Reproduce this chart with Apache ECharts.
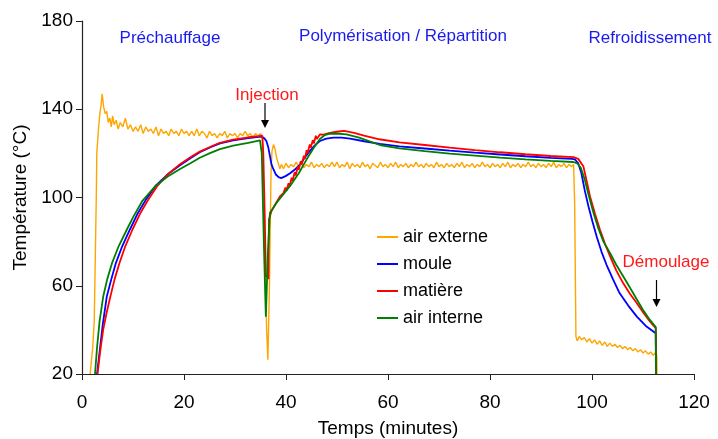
<!DOCTYPE html>
<html>
<head>
<meta charset="utf-8">
<script src="https://cdn.jsdelivr.net/npm/echarts@6/dist/echarts.min.js"></script>
<style>
  html, body { margin: 0; padding: 0; background: #fff; }
  #chart { width: 718px; height: 439px; }
</style>
</head>
<body>
<div id="chart"></div>
<script>
// temps (minutes), température (°C)
const airExterne = [
  [1.6,20],[2.1,32],[2.4,44],[2.8,100],[2.9,120],[3.2,130],[3.5,138],[3.75,142],[3.95,147],[4.25,141],
  [4.55,138],[4.85,139],[5.15,134],[5.45,136],[5.75,132],[6.0,137],[6.3,133],[6.7,135],[7.1,131],[7.5,134],
  [8.0,132],[8.5,136],[9.0,131],[9.5,133],[10,130],[10.5,132],[11,130],[11.5,133],[12,129],[12.5,132],
  [13,130],[13.5,131],[14,129],[14.5,132],[15,128],[15.5,131],[16,129],[16.5,130],[17,128],[17.5,131],
  [18,129],[18.5,130],[19,128],[19.5,131],[20,129],[20.5,130],[21,128],[21.5,130],[22,128],[22.5,131],
  [23,128],[23.5,130],[24,129],[24.5,127],[25,130],[25.5,128],[26,129],[26.5,127],[27,129],[27.5,128],
  [28,130],[28.5,127],[29,129],[29.5,128],[30,129],[30.5,127],[31,129],[31.5,128],[32,130],[32.5,128],
  [33,129],[33.5,127],[34,129],[34.5,128],[35,129],
  [35.4,127],[35.8,80],[36.2,40],[36.45,26.5],[36.75,60],[37.05,110],[37.25,121],[37.55,124],[37.85,122],[38.15,118],
  [38.55,115],[38.8,113],[39.1,115],[39.5,113],[40,115.5],[40.5,113.5],[41,115],[41.5,114],[42,116],[42.5,114],
  [43,115.5],[43.5,113.5],[44,115],[44.5,114],[45,116],[45.5,113.5],[46,115],[46.5,114],[47,115.5],[47.5,113.5],
  [48,115],[48.5,114],[49,116],[49.5,114],[50,116],[50.5,113.5],[51,115],[51.5,114],[52,116],[52.5,113],
  [53,115.5],[53.5,114],[54,115],[54.5,113.5],[55,116],[55.5,114],[56,115],[56.5,113],[57,115.5],[57.5,114.5],
  [58,113.5],[58.5,116],[59,114],[59.5,115],[60,113.5],[60.5,115.5],[61,114],[61.5,116],[62,113.5],[62.5,115],
  [63,114],[63.5,115.5],[64,113.5],[64.5,115],[65,114],[65.5,116],[66,114],[66.5,115],[67,113.5],[67.5,115.5],
  [68,114],[68.5,115],[69,113.5],[69.5,116],[70,114],[70.5,115],[71,113.5],[71.5,115.5],[72,114],[72.5,115],
  [73,113.5],[73.5,115.5],[74,114],[74.5,116],[75,113.5],[75.5,115],[76,114],[76.5,115.5],[77,113.5],[77.5,115],
  [78,114],[78.5,116],[79,114],[79.5,115],[80,113.5],[80.5,115.5],[81,114],[81.5,115],[82,113.5],[82.5,115.5],
  [83,114],[83.5,116],[84,113.5],[84.5,115],[85,114],[85.5,115.5],[86,113.5],[86.5,115],[87,114],[87.5,116],
  [88,114],[88.5,115],[89,113.5],[89.5,115.5],[90,114],[90.5,115],[91,113.5],[91.5,115.5],[92,114],[92.5,116],
  [93,113.5],[93.5,115],[94,114],[94.5,115.5],[95,113.5],[95.5,115],[96,114],[96.4,115],
  [96.6,97],[96.85,37],[97.1,35],[97.5,37],[98,35.5],[98.5,36.5],[99,34.5],[99.5,36],[100,34],[100.5,35.5],
  [101,33.5],[101.5,35],[102,33],[102.5,34.5],[103,32.5],[103.5,34],[104,32.5],[104.5,33.5],[105,32],[105.5,33],
  [106,31.5],[106.5,32.5],[107,31],[107.5,32],[108,30.5],[108.5,31.5],[109,30],[109.5,31],[110,29.5],[110.5,30.5],
  [111,29],[111.5,30],[112,28.5],[112.4,29.5],[112.7,28.5],[112.75,20]
];

const moule = [
  [2.95,20],[3.45,30],[4.05,42],[4.85,55],[5.75,63],[6.6,70],[7.9,78],[9.4,85.5],[10.85,92.5],[12.65,99.5],
  [14.5,105.5],[16.8,110.5],[19.15,114.5],[21.25,117.8],[23.1,120.5],[25.2,122.8],[27.05,124.5],[29.65,125.9],[32.6,126.9],[34.6,127.5],
  [35.2,127.6],[35.75,126.8],[36.15,125.6],[36.55,122.5],[36.85,118.8],[37.15,115],[37.55,112.7],[38.05,110.3],[38.55,109.2],[39.05,108.8],
  [39.4,109],[40,109.8],[40.8,111],[41.8,112.8],[42.8,115],[43.65,118],[44.65,121],[45.65,123.6],[46.65,125.6],[47.9,126.7],
  [49.3,127.1],[50.9,127.1],[52.55,126.7],[55.3,125.5],[58.4,124.3],[62.25,123.2],[67.2,122.2],[72.1,121.2],[77.05,120.3],[82,119.5],
  [86.95,118.7],[91.9,118],[96.05,117.5],[96.65,117.3],[97.3,115.5],[97.9,111.2],[98.6,103],[99.3,96],[100.1,89],[100.9,82.4],
  [101.85,75.5],[102.85,69.5],[104.15,62.8],[105.4,56.7],[107.1,51],[108.8,46],[110.55,41.8],[112.5,38.5],[112.55,20]
];

const matiere = [
  [3.05,20],[3.55,30],[4.15,40],[4.85,48],[5.55,55],[6.4,63],[7.3,70],[8.5,78],[9.9,85.5],[11.35,92.5],
  [12.85,98.5],[14.7,105],[16.8,110.5],[19.15,115],[21.25,118.2],[23.1,120.8],[25.2,123],[27.05,124.8],[29.65,126.2],[32.6,127.3],
  [34.6,127.8],[35.35,128],[35.55,120],[35.85,90],[36.05,64],[36.35,65],[36.55,63],[36.65,90],[37.15,93.8],[38.05,97.5],
  [38.85,100.6],[39.5,102],[39.9,104.5],[40.1,103],[40.5,106.5],[40.7,105],[41.1,109],[41.3,107.5],[41.7,111.5],[41.9,110],
  [42.3,114],[42.5,112.5],[42.9,116.5],[43.1,115],[43.5,119],[43.7,117.5],[44.05,121.5],[44.25,120],[44.65,124],[44.85,122.5],
  [45.25,126],[45.45,124.5],[45.85,128],[46.05,126.5],[46.65,128.6],[47.4,128.5],[48.4,129.2],[49.9,129.8],[51.4,130.2],[53.35,129.3],
  [55.3,128],[58.3,126.4],[62.25,125],[67.2,123.8],[72.1,122.6],[77.05,121.5],[82,120.5],[86.95,119.6],[91.9,118.8],[96.35,118.3],
  [97.3,117.5],[98.3,114.2],[99,107],[99.6,100.6],[100.6,92.5],[101.55,85.5],[102.55,79],[103.55,73.3],[104.75,67],[106.1,61.2],
  [107.4,56.5],[108.8,52.1],[110.15,47.5],[111.35,43.8],[112.5,40.8],[112.55,20]
];

const airInterne = [
  [2.55,20],[2.95,32],[3.45,44],[4.15,55],[4.95,63],[5.85,70],[7.2,78],[8.8,85.5],[10,91],[11.85,98.5],
  [14.3,105],[16.8,109.5],[19.15,112.8],[21.25,115.5],[23.1,118],[25.2,120.2],[27.05,121.9],[29.65,123.5],[32.6,124.8],[34.9,125.9],
  [35.25,120],[35.65,80],[36.05,46],[36.45,75],[36.85,93],[38.15,97.6],[39.5,101.5],[40.8,105.2],[42.5,111],[44.05,117.3],
  [45.45,122.5],[46.65,126.5],[47.6,128.3],[48.6,128.9],[49.9,129],[51.85,128.6],[54.35,127.1],[58.4,123.8],[62.25,122.3],[67.2,121],
  [72.1,119.9],[77.05,119],[82,118.1],[86.95,117.3],[91.9,116.6],[96.35,116.1],[97.1,115.5],[97.8,113.5],[98.6,108],[99.3,101.5],
  [100.3,93],[101.25,86],[102.25,80],[103.55,74.8],[104.75,69.5],[106.2,64],[107.6,58.5],[108.8,53.8],[110.15,48.5],[111.35,44.5],
  [112.5,41.3],[112.55,20]
];

const seriesNames = ['air externe', 'moule', 'matière', 'air interne'];
const seriesColors = ['#FFA500', '#0000FF', '#FF0000', '#008000'];
const xTicks = [0, 120, 20];   // min, max, interval
const yTicks = [20, 180, 40];

const font = 'Liberation Sans, Arial, sans-serif';
const chart = echarts.init(document.getElementById('chart'), null, { renderer: 'canvas' });

function arrow(x, y1, y2) {
  return [
    { type: 'line', shape: { x1: x, y1: y1, x2: x, y2: y2 - 6 }, style: { stroke: '#000', lineWidth: 1.2 } },
    { type: 'polygon', shape: { points: [[x - 4, y2 - 8], [x + 4, y2 - 8], [x, y2]] }, style: { fill: '#000' } }
  ];
}

function txt(x, y, s, color) {
  return {
    type: 'text', x: x, y: y,
    style: { text: s, fill: color, font: '17px ' + font, textAlign: 'center', textVerticalAlign: 'middle' }
  };
}

const option = {
  animation: false,
  backgroundColor: '#fff',
  grid: { left: 82, right: 24, top: 21, bottom: 65, containLabel: false, outerBoundsMode: 'none' },
  legend: {
    orient: 'vertical',
    left: 372, top: 223,
    itemWidth: 21, itemHeight: 14, itemGap: 9,
    icon: 'path://M0,6L21,6L21,8L0,8Z',
    textStyle: { fontSize: 18, fontFamily: font, color: '#000', lineHeight: 18 },
    data: seriesNames
  },
  xAxis: {
    type: 'value', min: xTicks[0], max: xTicks[1], interval: xTicks[2],
    name: 'Temps (minutes)', nameLocation: 'middle', nameGap: 45,
    nameTextStyle: { fontSize: 19, fontFamily: font, color: '#000' },
    axisLine: { show: true, lineStyle: { color: '#222', width: 1.2 } },
    axisTick: { show: true, length: 6, lineStyle: { color: '#222' } },
    axisLabel: { fontSize: 19, fontFamily: font, color: '#000', margin: 19 },
    splitLine: { show: false }
  },
  yAxis: {
    type: 'value', min: yTicks[0], max: yTicks[1], interval: yTicks[2],
    name: 'Température (°C)', nameLocation: 'middle', nameGap: 52, nameRotate: 90,
    nameTextStyle: { fontSize: 19, fontFamily: font, color: '#000' },
    axisLine: { show: true, lineStyle: { color: '#222', width: 1.2 } },
    axisTick: { show: true, length: 6, lineStyle: { color: '#222' } },
    axisLabel: { fontSize: 19, fontFamily: font, color: '#000', margin: 9 },
    splitLine: { show: false }
  },
  series: [airExterne, moule, matiere, airInterne].map((d, i) => ({
    name: seriesNames[i],
    type: 'line',
    data: d,
    showSymbol: false,
    symbol: 'none',
    color: seriesColors[i],
    lineStyle: { width: i === 0 ? 1.4 : 1.8, color: seriesColors[i] }
  })),
  graphic: [
    txt(170, 38, 'Préchauffage', '#1a1aee'),
    txt(403, 36, 'Polymérisation / Répartition', '#1a1aee'),
    txt(650, 38, 'Refroidissement', '#1a1aee'),
    txt(267, 95, 'Injection', '#ff1a1a'),
    txt(666, 262, 'Démoulage', '#ff1a1a'),
    ...arrow(265, 103, 128),
    ...arrow(656.5, 280, 307)
  ]
};

chart.setOption(option);
</script>
</body>
</html>
